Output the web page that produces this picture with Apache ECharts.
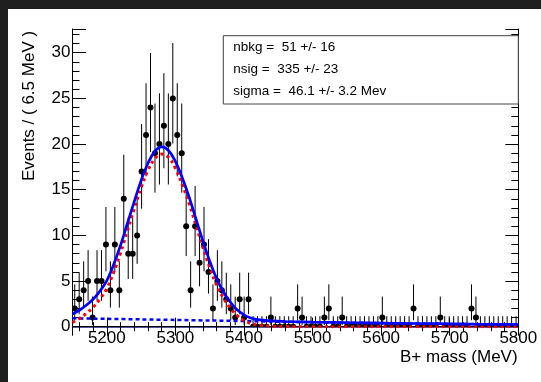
<!DOCTYPE html>
<html>
<head>
<meta charset="utf-8">
<script src="https://cdn.jsdelivr.net/npm/echarts@6/dist/echarts.min.js"></script>
<style>
  html, body { margin: 0; padding: 0; background: #1f1f1f; }
  #chart { position: absolute; left: 8px; top: 9px; width: 533px; height: 373px; background: #fff; }
</style>
</head>
<body>
<div id="chart"></div>
<script>
// histogram: 100 bins of 6.5 MeV from 5150 to 5800
const massMin = 5150;
const massMax = 5800;
const binWidth = 6.5;
const counts = [
  2, 3, 4, 5, 1, 5, 5, 9, 4, 9,
  4, 14, 8, 8, 10, 17, 21, 24, 19, 20,
  22, 20, 25, 21, 19, 11, 4, 11, 7, 9,
  6, 2, 5, 4, 3, 2, 1, 3, 1, 3,
  0, 0, 0, 0, 1, 0, 0, 0, 0, 0,
  2, 1, 0, 0, 0, 0, 1, 2, 0, 0,
  1, 0, 0, 0, 0, 0, 0, 0, 0, 1,
  0, 0, 0, 0, 0, 0, 2, 0, 0, 0,
  0, 0, 1, 0, 0, 0, 0, 0, 0, 2,
  1, 0, 0, 0, 0, 0, 0, 0, 0, 0,
];

// 68% Poisson interval (lower, upper) for n = 0..25
const poissonLo = [0, 0.173, 0.708, 1.367, 2.086, 2.840, 3.620, 4.419, 5.232, 6.057, 6.891,
  7.734, 8.585, 9.441, 10.30, 11.17, 12.04, 12.92, 13.80, 14.68, 15.57, 16.46, 17.35, 18.25, 19.14, 20.05];
const poissonHi = [1.148, 3.300, 4.638, 5.918, 7.163, 8.382, 9.584, 10.77, 11.95, 13.11, 14.27,
  15.42, 16.56, 17.70, 18.83, 19.96, 21.08, 22.20, 23.32, 24.44, 25.55, 26.66, 27.76, 28.87, 29.97, 31.07];

// fit curves
const fitX = [5150, 5160, 5170, 5180, 5190, 5200, 5210, 5220, 5230, 5240, 5250, 5260, 5270, 5280, 5290,
  5300, 5310, 5320, 5330, 5340, 5350, 5360, 5370, 5380, 5390, 5400, 5410, 5420, 5440, 5460,
  5500, 5550, 5600, 5650, 5700, 5750, 5800];
const fitTotal = [1.40, 1.80, 2.35, 3.00, 3.90, 5.05, 6.80, 8.90, 11.3, 13.7, 16.0, 17.9, 19.2, 19.7, 19.3,
  18.1, 16.3, 14.2, 11.8, 9.4, 7.2, 5.3, 3.8, 2.7, 1.85, 1.30, 0.95, 0.78, 0.64, 0.57,
  0.50, 0.44, 0.40, 0.35, 0.31, 0.27, 0.24];
const fitSignal = [0.48, 0.89, 1.45, 2.12, 3.03, 4.19, 5.95, 8.06, 10.5, 12.9, 15.2, 17.1, 18.4, 18.9, 18.55,
  17.35, 15.55, 13.5, 11.1, 8.7, 6.5, 4.6, 3.15, 2.05, 1.22, 0.68, 0.34, 0.19, 0.06, 0.02,
  0, 0, 0, 0, 0, 0, 0];
const bkgX = [5150, 5200, 5250, 5300, 5350, 5400, 5450, 5500, 5550, 5600, 5650, 5700, 5750, 5800];
const bkgY = [0.92, 0.86, 0.80, 0.74, 0.68, 0.62, 0.55, 0.49, 0.44, 0.40, 0.35, 0.31, 0.27, 0.24];

const boxLines = ['nbkg =  51 +/- 16', 'nsig =  335 +/- 23', 'sigma =  46.1 +/- 3.2 Mev'];

const FONT = '"Liberation Sans", Arial, Helvetica, sans-serif';

const points = counts.map((n, i) => [
  massMin + (i + 0.5) * binWidth, n, poissonLo[n], poissonHi[n],
]);

const chart = echarts.init(document.getElementById('chart'));

const xBase = {
  type: 'value',
  min: massMin,
  max: massMax,
  splitLine: { show: false },
  axisLine: { lineStyle: { color: '#000', width: 1 } },
  axisTick: { inside: true, length: 9, lineStyle: { color: '#000' } },
  minorTick: { show: true, splitNumber: 5, length: 4.5, lineStyle: { color: '#000' } },
};
const yBase = {
  type: 'value',
  min: 0,
  max: 32.6,
  interval: 5,
  splitLine: { show: false },
  axisLine: { lineStyle: { color: '#000', width: 1 } },
  axisTick: { inside: true, length: 13.5, lineStyle: { color: '#000' } },
  minorTick: { show: true, splitNumber: 5, length: 7, lineStyle: { color: '#000' } },
};

chart.setOption({
  animation: false,
  grid: { left: 64.5, top: 20, width: 445.8, height: 297.7, outerBoundsMode: 'none' },
  xAxis: [
    {
      ...xBase,
      position: 'bottom',
      axisLine: { lineStyle: { color: '#1c1c7c', width: 1.5 } },
      axisLabel: {
        fontSize: 17, color: '#000', fontFamily: FONT, margin: 3,
        showMinLabel: false,
        formatter: (v) => String(v),
      },
    },
    { ...xBase, position: 'top', axisLabel: { show: false } },
  ],
  yAxis: [
    {
      ...yBase,
      position: 'left',
      axisLabel: {
        fontSize: 17, color: '#000', fontFamily: FONT, margin: 2,
        showMaxLabel: false,
        formatter: (v) => String(v),
      },
    },
    { ...yBase, position: 'right', axisTick: { ...yBase.axisTick, length: 13 }, axisLabel: { show: false } },
  ],
  graphic: [
    {
      type: 'rect',
      shape: { x: 215.3, y: 26.7, width: 295, height: 68.3 },
      style: { fill: '#fff', stroke: '#444', lineWidth: 1 },
      z: 100,
    },
    ...boxLines.map((t, i) => ({
      type: 'text',
      x: 225.3,
      y: 38.5 + i * 22,
      style: { text: t, fontSize: 13.5, fontFamily: FONT, fill: '#000', verticalAlign: 'middle' },
      z: 101,
    })),
    {
      type: 'text',
      x: 21.3,
      y: 97,
      rotation: Math.PI / 2,
      style: {
        text: 'Events / ( 6.5 MeV )', fontSize: 17, fontFamily: FONT, fill: '#000',
        align: 'center', verticalAlign: 'middle',
      },
    },
    {
      type: 'text',
      x: 509.6,
      y: 348.5,
      style: {
        text: 'B+ mass (MeV)', fontSize: 17, fontFamily: FONT, fill: '#000',
        align: 'right', verticalAlign: 'middle',
      },
    },
  ],
  series: [
    {
      type: 'custom',
      name: 'data',
      clip: true,
      encode: { x: 0, y: 1 },
      data: points,
      renderItem: (params, api) => {
        const x = api.value(0);
        const p = api.coord([x, api.value(1)]);
        const lo = api.coord([x, api.value(2)]);
        const hi = api.coord([x, api.value(3)]);
        return {
          type: 'group',
          children: [
            {
              type: 'line',
              shape: { x1: lo[0], y1: lo[1], x2: hi[0], y2: hi[1] },
              style: { stroke: '#000', lineWidth: 1 },
            },
            {
              type: 'circle',
              shape: { cx: p[0], cy: p[1], r: 3 },
              style: { fill: '#000' },
            },
          ],
        };
      },
    },
    {
      type: 'line',
      name: 'background',
      data: bkgX.map((x, i) => [x, bkgY[i]]),
      symbol: 'none',
      smooth: 0.3,
      clip: true,
      lineStyle: { color: '#0000ff', width: 2.5, type: [4, 3] },
    },
    {
      type: 'line',
      name: 'signal',
      data: fitX.map((x, i) => [x, fitSignal[i]]),
      symbol: 'none',
      smooth: 0.4,
      clip: true,
      lineStyle: { color: '#ff0000', width: 3, type: [3, 3.5] },
    },
    {
      type: 'line',
      name: 'total',
      data: fitX.map((x, i) => [x, fitTotal[i]]),
      symbol: 'none',
      smooth: 0.4,
      clip: true,
      lineStyle: { color: '#0000ff', width: 2.7 },
    },
  ],
});
</script>
</body>
</html>
